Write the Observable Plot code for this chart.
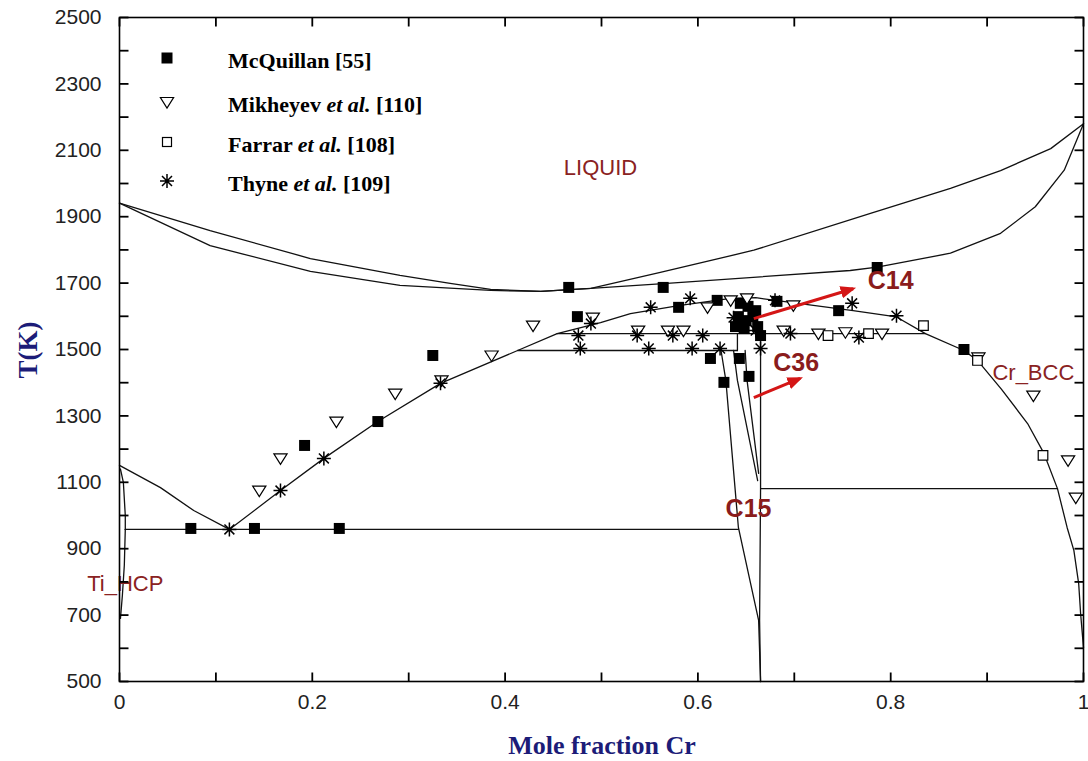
<!DOCTYPE html>
<html>
<head>
<meta charset="utf-8">
<script src="https://cdn.jsdelivr.net/npm/d3@7"></script>
<script src="https://cdn.jsdelivr.net/npm/@observablehq/plot@0.6"></script>
<style>
  body { margin: 0; background: #fff; }
  #wrap { position: relative; width: 1088px; height: 761px; background: #fff; }
  .legend-row { position: absolute; font-family: "Liberation Serif", "Times New Roman", serif; font-weight: bold; font-size: 22px; color: #000; white-space: nowrap; }
  .legend-sym { position: absolute; }
  .axis-title { position: absolute; font-family: "Liberation Serif", "Times New Roman", serif; font-weight: bold; color: #1c1c78; white-space: nowrap; }
</style>
</head>
<body>
<div id="wrap"></div>
<script>
// ---- Phase boundaries of the Ti–Cr system: [mole fraction Cr, T (K)] ----
const liquidus = [[0,1941],[0.094,1858],[0.198,1774],[0.291,1723],[0.343,1699],[0.385,1681],[0.437,1675],[0.489,1684],[0.561,1732],[0.658,1799],[0.779,1910],[0.862,1985],[0.914,2039],[0.966,2105],[1,2180]];
const solidus = [[0,1941],[0.094,1813],[0.198,1735],[0.291,1693],[0.385,1678],[0.437,1675],[0.489,1684],[0.568,1699],[0.758,1738],[0.786,1748],[0.862,1790],[0.914,1850],[0.95,1930],[0.98,2040],[1,2180]];
const betaTransus = [[0,1151],[0.0425,1084],[0.077,1015],[0.114,958]];
const bccBoundary = [[0.114,958],[0.167,1075],[0.212,1172],[0.268,1283],[0.333,1398],[0.413,1497],[0.454,1548],[0.499,1581],[0.530,1608],[0.580,1632],[0.634,1654],[0.660,1656],[0.706,1638],[0.761,1617],[0.806,1598],[0.836,1548],[0.876,1497],[0.890,1467],[0.915,1380],[0.942,1277],[0.959,1187],[0.973,1081],[0.983,964],[0.990,895],[0.995,795],[0.997,705],[1,602]];
const hcpSolvusHigh = [[0.001,1140],[0.004,1100],[0.006,1000],[0.006,958]];
const hcpSolvusLow = [[0.006,958],[0.005,850],[0.003,760],[0.001,690]];
const c15Left = [[0.624,1497],[0.629,1407],[0.642,964],[0.663,684],[0.665,500]];
const c15Mid1 = [[0.637,1497],[0.641,1407],[0.662,1105]];
const c15Mid2 = [[0.649,1497],[0.651,1407],[0.663,1127]];
const c15Right = [[0.665,1562],[0.665,1081],[0.664,684],[0.665,500]];
const c14Step = [[0.641,1497],[0.641,1548]];
// Invariant reactions (isotherms)
const eutectoid958 = [[0.006,958],[0.642,958]];
const iso1081 = [[0.665,1081],[0.973,1081]];
const iso1497 = [[0.413,1497],[0.641,1497]];
const iso1548 = [[0.454,1548],[0.836,1548]];
const boundaries = [liquidus, solidus, betaTransus, bccBoundary, hcpSolvusHigh, hcpSolvusLow, c15Left, c15Mid1, c15Mid2, c15Right, c14Step, eutectoid958, iso1081, iso1497, iso1548];

// ---- Experimental data ----
const mcquillanX = [0.074,0.140,0.228,0.192,0.268,0.325,0.475,0.466,0.564,0.580,0.620,0.644,0.652,0.660,0.642,0.650,0.657,0.639,0.648,0.662,0.665,0.682,0.613,0.627,0.643,0.653,0.746,0.786,0.876];
const mcquillanT = [961,961,961,1211,1283,1482,1599,1687,1687,1627,1648,1639,1630,1617,1599,1587,1599,1569,1563,1569,1542,1645,1473,1401,1473,1419,1617,1747,1500];
const mikheyevX = [0.145,0.167,0.225,0.286,0.334,0.386,0.429,0.491,0.538,0.569,0.585,0.610,0.634,0.651,0.689,0.699,0.725,0.753,0.791,0.891,0.948,0.984,0.992];
const mikheyevT = [1075,1172,1283,1367,1407,1482,1572,1596,1557,1557,1557,1627,1648,1654,1557,1633,1548,1552,1548,1476,1361,1166,1054];
const farrarX = [0.735,0.777,0.834,0.890,0.958];
const farrarT = [1542,1548,1572,1467,1181];
const thyneX = [0.114,0.167,0.212,0.333,0.476,0.478,0.489,0.537,0.549,0.551,0.574,0.592,0.594,0.605,0.623,0.637,0.660,0.665,0.680,0.696,0.760,0.767,0.806];
const thyneT = [958,1075,1172,1398,1542,1503,1578,1542,1503,1627,1542,1654,1503,1542,1503,1596,1557,1503,1648,1548,1639,1536,1602];

// ---- Phase labels and arrows ----
const phaseNames = ["LIQUID", "Cr_BCC", "Ti_HCP"];
const phaseX = [0.499, 0.948, 0.006];
const phaseT = [2048, 1428, 795];
const lavesNames = ["C14", "C36", "C15"];
const lavesX = [0.800, 0.702, 0.6525];
const lavesT = [1705, 1458, 1021];
const arrowX1 = [0.658, 0.658];
const arrowT1 = [1593, 1355];
const arrowX2 = [0.761, 0.706];
const arrowT2 = [1683, 1413];

// ---- Axis ticks ----
const xLabelTicks = [0, 0.2, 0.4, 0.6, 0.8, 1];
const xMinorTicks = [0, 0.1, 0.2, 0.3, 0.4, 0.5, 0.6, 0.7, 0.8, 0.9, 1];
const yLabelTicks = [500, 700, 900, 1100, 1300, 1500, 1700, 1900, 2100, 2300, 2500];
const yMinorTicks = d3.range(500, 2501, 100);
const xDomain = [0, 1];
const yDomain = [500, 2500];

const legendNames = [["McQuillan [55]"], ["Mikheyev ", "et al.", " [110]"], ["Farrar ", "et al.", " [108]"], ["Thyne ", "et al.", " [109]"]];
const legendKinds = ["filled", "triangle", "open", "star"];

const tickLen = 9;

// Custom marker shapes
const triangleDown = {
  draw(ctx, size) {
    const r = Math.sqrt(size / Math.PI);
    ctx.moveTo(-1.1 * r, -0.75 * r);
    ctx.lineTo(1.1 * r, -0.75 * r);
    ctx.lineTo(0, 1.0 * r);
    ctx.closePath();
  }
};
const asterisk = {
  draw(ctx, size) {
    const r = Math.sqrt(size / Math.PI);
    for (let i = 0; i < 4; i++) {
      const a = i * Math.PI / 4;
      ctx.moveTo(-r * Math.cos(a), -r * Math.sin(a));
      ctx.lineTo(r * Math.cos(a), r * Math.sin(a));
    }
  }
};
// Short inward tick strokes, drawn as symbols sitting on the frame edges
const tickSymbol = (dx, dy) => ({
  draw(ctx) {
    ctx.moveTo(0, 0);
    ctx.lineTo(dx * tickLen, dy * tickLen);
  }
});

// Solid triangular arrowhead for the annotation arrows
const solidHead = (color, context) => {
  const doc = (context && context.document) || document;
  const ns = "http://www.w3.org/2000/svg";
  const m = doc.createElementNS(ns, "marker");
  m.setAttribute("viewBox", "-5 -5 10 10");
  m.setAttribute("markerWidth", "5.2");
  m.setAttribute("markerHeight", "5.2");
  m.setAttribute("refX", "3");
  m.setAttribute("refY", "0");
  m.setAttribute("orient", "auto");
  const p = doc.createElementNS(ns, "path");
  p.setAttribute("d", "M-5,-4L5,0L-5,4Z");
  p.setAttribute("fill", color);
  p.setAttribute("stroke", "none");
  m.appendChild(p);
  return m;
};

const zip = (xs, ys) => xs.map((x, i) => ({x, T: ys[i]}));
const lineStyle = {x: d => d[0], y: d => d[1], stroke: "#111", strokeWidth: 1.3};
const tickFmt = d => String(+d.toFixed(1));
const arrowOpts = {x1: d => d, y1: (d, i) => arrowT1[i], x2: (d, i) => arrowX2[i], y2: (d, i) => arrowT2[i], stroke: "#d41616", strokeWidth: 3};

let arrowMark;
try {
  arrowMark = Plot.link(arrowX1, {...arrowOpts, markerEnd: solidHead});
} catch (e) {
  arrowMark = Plot.arrow(arrowX1, {...arrowOpts, strokeWidth: 3.5, headLength: 14, headAngle: 50});
}

const tickStyle = {stroke: "#000", strokeWidth: 1.8, r: 4, fill: "none"};

const chart = Plot.plot({
  width: 1088,
  height: 761,
  marginLeft: 119,
  marginRight: 5,
  marginTop: 17,
  marginBottom: 80,
  x: {domain: xDomain},
  y: {domain: yDomain},
  style: {background: "white", fontFamily: "'Liberation Sans', Arial, sans-serif", fontSize: "21px", color: "#222"},
  marks: [
    ...boundaries.map(b => Plot.line(b, lineStyle)),
    Plot.dot(zip(mcquillanX, mcquillanT), {x: "x", y: "T", symbol: "square", r: 6.2, fill: "#000"}),
    Plot.dot(zip(mikheyevX, mikheyevT), {x: "x", y: "T", symbol: triangleDown, r: 6, fill: "white", stroke: "#000", strokeWidth: 1.2}),
    Plot.dot(zip(farrarX, farrarT), {x: "x", y: "T", symbol: "square", r: 5.4, fill: "white", stroke: "#000", strokeWidth: 1.2}),
    Plot.dot(zip(thyneX, thyneT), {x: "x", y: "T", symbol: asterisk, r: 7, stroke: "#000", strokeWidth: 1.5}),
    Plot.text(phaseNames, {x: (d, i) => phaseX[i], y: (d, i) => phaseT[i], text: d => d, fill: "#8a2222", fontSize: 22}),
    Plot.text(lavesNames, {x: (d, i) => lavesX[i], y: (d, i) => lavesT[i], text: d => d, fill: "#8a1c1c", fontSize: 25, fontWeight: "bold"}),
    arrowMark,
    // inward ticks on all four sides
    Plot.dot(xMinorTicks, {x: d => d, y: () => yDomain[0], symbol: tickSymbol(0, -1), ...tickStyle}),
    Plot.dot(xMinorTicks, {x: d => d, y: () => yDomain[1], symbol: tickSymbol(0, 1), ...tickStyle}),
    Plot.dot(yMinorTicks, {x: () => xDomain[0], y: d => d, symbol: tickSymbol(1, 0), ...tickStyle}),
    Plot.dot(yMinorTicks, {x: () => xDomain[1], y: d => d, symbol: tickSymbol(-1, 0), ...tickStyle}),
    Plot.frame({stroke: "#000", strokeWidth: 1.6}),
    // tick labels
    Plot.axisX({ticks: xLabelTicks, tickSize: 0, tickPadding: 13, tickFormat: tickFmt, label: null, fontSize: 21}),
    Plot.axisY({ticks: yLabelTicks, tickSize: 0, tickPadding: 18, tickFormat: d => String(d), label: null, fontSize: 21})
  ]
});

const wrap = document.getElementById("wrap");
wrap.appendChild(chart);

// Axis titles
const xTitle = document.createElement("div");
xTitle.className = "axis-title";
xTitle.textContent = "Mole fraction Cr";
xTitle.style.fontSize = "26px";
xTitle.style.left = "602px";
xTitle.style.top = "746px";
xTitle.style.transform = "translate(-50%, -50%)";
wrap.appendChild(xTitle);

const yTitle = document.createElement("div");
yTitle.className = "axis-title";
yTitle.textContent = "T(K)";
yTitle.style.fontSize = "27px";
yTitle.style.left = "28px";
yTitle.style.top = "350px";
yTitle.style.transform = "translate(-50%, -50%) rotate(-90deg)";
wrap.appendChild(yTitle);

// Legend
const symbolSvg = kind => {
  if (kind === "filled") return '<rect x="4.5" y="4.5" width="11" height="11" fill="#000"/>';
  if (kind === "open") return '<rect x="5.5" y="5.5" width="9" height="9" fill="white" stroke="#000" stroke-width="1.2"/>';
  if (kind === "triangle") return '<path d="M3.4,5.5 L16.6,5.5 L10,16 Z" fill="white" stroke="#000" stroke-width="1.2"/>';
  return '<path d="M3,10 L17,10 M10,3 L10,17 M5,5 L15,15 M15,5 L5,15" stroke="#000" stroke-width="1.5"/>';
};
const legendRowY = [58, 102, 142, 181];
legendNames.forEach((parts, i) => {
  const sym = document.createElement("div");
  sym.className = "legend-sym";
  sym.style.left = "157px";
  sym.style.top = (legendRowY[i] - 10) + "px";
  sym.innerHTML = `<svg width="20" height="20">${symbolSvg(legendKinds[i])}</svg>`;
  wrap.appendChild(sym);
  const row = document.createElement("div");
  row.className = "legend-row";
  row.style.left = "228px";
  row.style.top = (legendRowY[i] + 3) + "px";
  row.style.transform = "translateY(-50%)";
  row.innerHTML = parts.length === 1 ? parts[0] : `${parts[0]}<i>${parts[1]}</i>${parts[2]}`;
  wrap.appendChild(row);
});
</script>
</body>
</html>
